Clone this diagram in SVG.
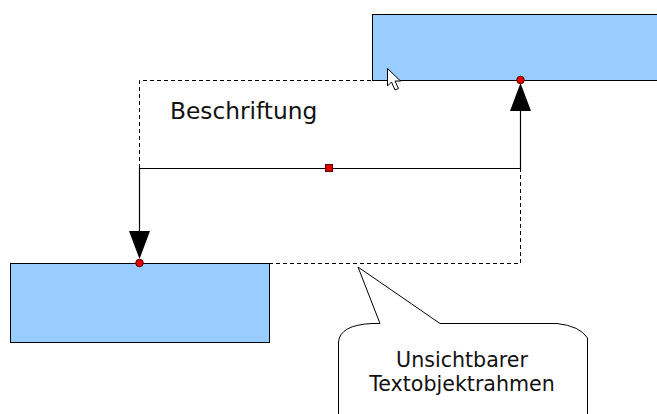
<svg xmlns="http://www.w3.org/2000/svg" width="657" height="414" viewBox="0 0 657 414">
<style>
.box{fill:#99ccff;stroke:#000;stroke-width:1}
.dash{fill:none;stroke:#000;stroke-width:1;stroke-dasharray:4 3}
.line{fill:none;stroke:#000;stroke-width:1.2}
.txt{font-family:"DejaVu Sans",sans-serif;fill:#111}
.dot{fill:#e00000;stroke:#600;stroke-width:1}
</style>
<rect width="657" height="414" fill="#fff"/>
<g id="frame">
<path class="dash" d="M139.5 168 V80.5 H372 M269 263.5 H520.5 V168"/>
</g>
<g id="box-top">
<rect class="box" x="372.5" y="14.5" width="300" height="66"/>
</g>
<g id="box-bottom">
<rect class="box" x="10.5" y="263.5" width="259" height="79"/>
</g>
<g id="label">
<text class="txt" x="170" y="119" font-size="23.3">Beschriftung</text>
</g>
<g id="connectors">
<path class="line" d="M520.5 110 V168.5 H139.5 V232"/>
<polygon points="520.5,83 510,111 531,111" fill="#000"/>
<polygon points="139.5,259 129,231 150,231" fill="#000"/>
<circle class="dot" cx="520.5" cy="80" r="3.8"/>
<circle class="dot" cx="139.5" cy="263" r="3.8"/>
<rect class="dot" x="325.5" y="164.5" width="7" height="7" stroke="#333"/>
</g>
<g id="callout">
<path fill="#fff" stroke="#000" stroke-width="1" d="M338.5 418 V342 Q340 325 372 323.5 H380 L358 267 L440 323.5 H557 Q580 326 587.5 338 V418"/>
<text class="txt" x="462" y="367" font-size="20.6" text-anchor="middle">Unsichtbarer</text>
<text class="txt" x="462" y="391" font-size="20.6" text-anchor="middle">Textobjektrahmen</text>
</g>
<g id="cursor">
<path d="M387.5 68.5 V86 L391.5 82 L395 90 L398.5 88.5 L395 81 L400.5 81 Z" fill="#fff" stroke="#000" stroke-width="1"/>
</g>
</svg>
